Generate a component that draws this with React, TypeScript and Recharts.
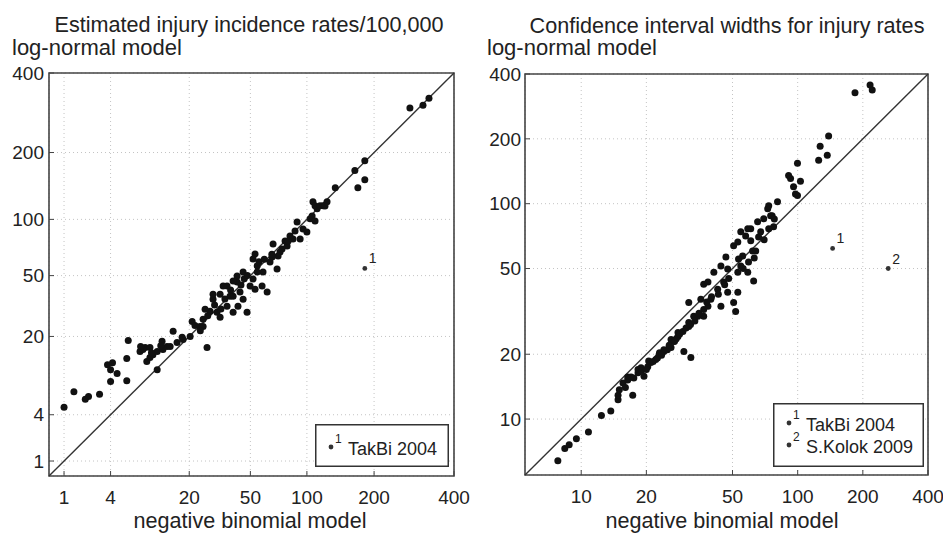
import React from "react";
import {
    ScatterChart,
    Scatter,
    XAxis,
    YAxis,
    CartesianGrid,
    ReferenceLine,
    ReferenceArea,
    Legend,
} from "recharts";

const FONT = '"Liberation Sans", Arial, Helvetica, sans-serif';
const INK = "#222";

// Panel 1 - estimated injury incidence rates / 100,000 (axes on a 4th-root scale)
const rateTicks = [1, 4, 20, 50, 100, 200, 400];
const rateRange = [0.5625, 400];
const rateNegBin = [
    1, 1.4, 2.0, 2.2, 3.0, 4.0, 3.7, 4.2, 4.7, 4.0, 5.9, 5.9, 6.1, 7.9, 8.8, 9.1, 9.7, 10.3, 11.2, 12.3,
    12.5, 13.5, 15.1, 16.2, 17.7, 21, 23.9, 25.1, 26.7, 28, 29.3, 32.6, 36.1, 39.4, 8.4, 9.7, 14.3, 18,
    20.3, 11.2, 25.1, 25.9, 29.3, 31.1, 34.1, 36.1, 37.7, 39.4, 41.7, 42.2, 45.3, 47.8, 49.8, 51.8, 53.2,
    54.7, 59, 62.2, 64.5, 70.4, 73, 71.3, 74.8, 79.5, 85.3, 89.4, 92.6, 95.7, 103.7, 107, 112, 119.5,
    124.7, 39.4, 41.7, 45.3, 53.2, 51.8, 67, 77.6, 82.3, 87.3, 106, 109.5, 109.5, 115.7, 122, 136, 166,
    183, 171, 183, 277, 310, 326, 32.6, 43.4, 54.7, 58.3, 66.2, 80.5, 100,
    22, 24, 27, 30, 33, 35, 38, 44, 46, 48, 56, 60, 66, 12, 10, 8,
];
const rateLogNorm = [
    4.8, 6.9, 5.8, 6.2, 6.5, 10.9, 12, 12.5, 10.1, 8.6, 8.7, 13.5, 18.7, 15.4, 16.5, 12.8, 13.8, 14.5,
    15.4, 18.4, 15.9, 16.8, 21.8, 18, 19.7, 25.6, 23.6, 26.5, 16.5, 30, 35.9, 38.6, 43.3, 37.5, 15.9,
    16.5, 16.8, 19, 20, 10.9, 23.6, 30.9, 38.6, 29.5, 43.3, 32.4, 37.5, 29.5, 45.8, 32.4, 35.9, 29.5,
    43.3, 47.7, 66.3, 56.8, 52.4, 39.8, 59.8, 54.6, 67.9, 64.6, 70.4, 73.1, 79.6, 97.2, 79.6, 89.6,
    100.6, 121.5, 112.5, 116.3, 121.5, 46.4, 49.7, 52.4, 41.5, 62.2, 74.9, 77.7, 82.5, 87.6, 104, 98.3,
    116.3, 116.3, 116, 141, 168, 185, 141, 153, 299, 306, 325, 27.3, 39.8, 52.4, 43.3, 63.8, 77.7, 86.5,
    24, 22, 28, 33, 31, 36, 41, 44, 48, 50, 60, 62, 66, 17, 15, 16.8,
];
const rateOutlierNegBin = [183];
const rateOutlierLogNorm = [55];
const rateOutlierTag = ["1"];

// Panel 2 - confidence interval widths (log axes)
const widthTicks = [10, 20, 50, 100, 200, 400];
const widthRange = [5.5, 400];
const widthNegBin = [
    7.8, 8.4, 8.8, 9.5, 10.8, 12.4, 13.7, 14.8, 14.8, 15, 17.3, 15.6, 16.4, 17, 18.3, 18.9, 20.3, 21,
    22.1, 22.9, 24.1, 26, 26.8, 28, 29.8, 32.1, 31.4, 34.6, 31.4, 36.8, 36.8, 26, 28, 31.4, 33.1, 35.7,
    36.8, 38.5, 39.7, 41, 42.7, 44.2, 45.5, 47.5, 50.6, 51.7, 47.5, 50.6, 52.9, 54.6, 55.7, 57.5, 58.8,
    59.3, 61.9, 62.6, 60.7, 65.3, 67.5, 69.7, 72.7, 75, 77.4, 80.7, 92.7, 95.7, 99.8, 103, 99.8, 90.8,
    184, 216, 221, 139, 127, 137, 125, 97.7, 73.5, 76.2, 73.5, 58.8, 54.6, 60.7, 64, 46.6, 44.2, 53.3,
    52.9, 38.5, 52.9, 16.4, 18.3, 19.5, 24.1, 23, 20.5, 27.5,
    16, 17.5, 19, 20, 21.5, 22.5, 23.5, 25, 25.5, 27, 28.5, 29.5, 30.5, 32, 33.5, 35, 38, 40, 43, 46,
    48, 56, 63, 66, 70, 78,
];
const widthLogNorm = [
    6.4, 7.3, 7.6, 8.1, 8.7, 10.4, 10.9, 12.3, 12.9, 13.7, 12.9, 14.7, 15.2, 15.7, 16.4, 17.3, 17.5,
    18.3, 18.9, 19.9, 20.6, 21.5, 22.9, 24.2, 20.6, 19.3, 28.1, 30, 34.8, 42.3, 32.3, 23.4, 25.2, 26.9,
    30, 36, 30, 33.4, 36, 48.1, 40.1, 33.4, 43.3, 38.8, 34.8, 31.6, 49.7, 63.7, 66.4, 51.3, 57.1, 70.8,
    48.1, 53.6, 60.3, 43.7, 76.4, 82.4, 74, 85.1, 94.8, 87.9, 78.1, 102, 131, 120, 109, 127, 154, 135,
    327, 356, 337, 206, 185, 168, 159, 111, 97.9, 87.9, 76.4, 76.4, 74, 67.2, 60.3, 56.5, 51.3, 55.3,
    48.1, 43.3, 38.8, 15.7, 17, 15.8, 21, 20.3, 18.6, 23.6,
    14, 15.5, 16.8, 17, 18.5, 19.2, 19.8, 21, 22, 23, 24.8, 25.5, 26.5, 27.5, 28.5, 31, 35, 37, 38, 42,
    45, 50, 56, 70, 68, 85,
];
const widthOutlierNegBin = [145, 262];
const widthOutlierLogNorm = [62, 50];
const widthOutlierTag = ["1", "2"];

const root4 = (v: number) => Math.pow(v, 0.25);

const ratePoints = rateNegBin.map((v, i) => ({ x: root4(v), y: root4(rateLogNorm[i]) }));
const rateOutliers = rateOutlierNegBin.map((v, i) => ({
    x: root4(v),
    y: root4(rateOutlierLogNorm[i]),
    tag: rateOutlierTag[i],
}));
const widthPoints = widthNegBin.map((v, i) => ({ x: v, y: widthLogNorm[i] }));
const widthOutliers = widthOutlierNegBin.map((v, i) => ({
    x: v,
    y: widthOutlierLogNorm[i],
    tag: widthOutlierTag[i],
}));

const tickStyle = { fill: INK, fontSize: 19, fontFamily: FONT };

const Dot = (props: any) => <circle cx={props.cx} cy={props.cy} r={3.5} fill="#111" />;

const TaggedDot = (props: any) => (
    <g>
        <circle cx={props.cx} cy={props.cy} r={2.4} fill="#333" />
        <text x={props.cx + 4} y={props.cy - 5} fontSize={14} fontFamily={FONT} fill={INK}>
            {props.payload.tag}
        </text>
    </g>
);

// legend box: entries drawn as small dot + superscript number + study name
const LegendBox = ({ w, h, entries }: { w: number; h: number; entries: { tag: string; name: string; y: number }[] }) => (
    <svg width={w} height={h} style={{ display: "block" }}>
        <rect x={0.75} y={0.75} width={w - 1.5} height={h - 1.5} fill="#fff" stroke="#333" strokeWidth={1.5} />
        {entries.map((e) => (
            <g key={e.tag}>
                <circle cx={16} cy={e.y - 8} r={2.4} fill="#333" />
                <text x={20} y={e.y - 12} fontSize={12} fontFamily={FONT} fill={INK}>
                    {e.tag}
                </text>
                <text x={33} y={e.y} fontSize={18} fontFamily={FONT} fill={INK}>
                    {e.name}
                </text>
            </g>
        ))}
    </svg>
);

const App = () => {
    const rateDomain = [root4(rateRange[0]), root4(rateRange[1])];
    const rateTickPos = rateTicks.map(root4);
    const fromRoot = (t: number) => String(Math.round(Math.pow(t, 4)));

    return (
        <div style={{ position: "fixed", left: 0, top: 0, width: 943, height: 533, background: "#fff", overflow: "hidden" }}>
            {/* Left panel */}
            <div style={{ position: "absolute", left: 0, top: 0 }}>
                <ScatterChart width={470} height={533} margin={{ top: 73, right: 16, bottom: 27, left: 0 }}>
                    <CartesianGrid stroke="#c4c4c4" strokeDasharray="1 3" />
                    <XAxis
                        type="number"
                        dataKey="x"
                        domain={rateDomain}
                        ticks={rateTickPos}
                        tickFormatter={fromRoot}
                        allowDataOverflow
                        height={30}
                        axisLine={false}
                        tickSize={-5}
                        tickMargin={20}
                        tickLine={{ stroke: "#444" }}
                        tick={tickStyle}
                    />
                    <YAxis
                        type="number"
                        dataKey="y"
                        domain={rateDomain}
                        ticks={rateTickPos}
                        tickFormatter={fromRoot}
                        allowDataOverflow
                        width={49}
                        axisLine={false}
                        tickSize={-5}
                        tickMargin={10}
                        tickLine={{ stroke: "#444" }}
                        tick={tickStyle}
                    />
                    <ReferenceLine
                        segment={[
                            { x: rateDomain[0], y: rateDomain[0] },
                            { x: rateDomain[1], y: rateDomain[1] },
                        ]}
                        stroke="#333"
                        strokeWidth={1.4}
                    />
                    <ReferenceArea
                        x1={rateDomain[0]}
                        x2={rateDomain[1]}
                        y1={rateDomain[0]}
                        y2={rateDomain[1]}
                        fill="none"
                        stroke="#444"
                        strokeWidth={1.6}
                    />
                    <Scatter data={ratePoints} shape={Dot} isAnimationActive={false} />
                    <Scatter data={rateOutliers} shape={TaggedDot} isAnimationActive={false} />
                    <Legend
                        layout="horizontal"
                        verticalAlign="middle"
                        align="center"
                        wrapperStyle={{ left: 315, top: 424, width: 134, height: 43 }}
                        content={() => <LegendBox w={134} h={43} entries={[{ tag: "1", name: "TakBi 2004", y: 31 }]} />}
                    />
                </ScatterChart>
            </div>

            {/* Right panel */}
            <div style={{ position: "absolute", left: 470, top: 0 }}>
                <ScatterChart width={473} height={533} margin={{ top: 74, right: 15, bottom: 28, left: 0 }}>
                    <CartesianGrid stroke="#c4c4c4" strokeDasharray="1 3" />
                    <XAxis
                        type="number"
                        dataKey="x"
                        scale="log"
                        domain={widthRange}
                        ticks={widthTicks}
                        allowDataOverflow
                        height={30}
                        axisLine={false}
                        tickSize={-5}
                        tickMargin={20}
                        tickLine={{ stroke: "#444" }}
                        tick={tickStyle}
                    />
                    <YAxis
                        type="number"
                        dataKey="y"
                        scale="log"
                        domain={widthRange}
                        ticks={widthTicks}
                        allowDataOverflow
                        width={55}
                        axisLine={false}
                        tickSize={-5}
                        tickMargin={9}
                        tickLine={{ stroke: "#444" }}
                        tick={tickStyle}
                    />
                    <ReferenceLine
                        segment={[
                            { x: widthRange[0], y: widthRange[0] },
                            { x: widthRange[1], y: widthRange[1] },
                        ]}
                        stroke="#333"
                        strokeWidth={1.4}
                    />
                    <ReferenceArea
                        x1={widthRange[0]}
                        x2={widthRange[1]}
                        y1={widthRange[0]}
                        y2={widthRange[1]}
                        fill="none"
                        stroke="#444"
                        strokeWidth={1.6}
                    />
                    <Scatter data={widthPoints} shape={Dot} isAnimationActive={false} />
                    <Scatter data={widthOutliers} shape={TaggedDot} isAnimationActive={false} />
                    <Legend
                        layout="horizontal"
                        verticalAlign="middle"
                        align="center"
                        wrapperStyle={{ left: 303, top: 403, width: 151, height: 64 }}
                        content={() => (
                            <LegendBox
                                w={151}
                                h={64}
                                entries={[
                                    { tag: "1", name: "TakBi 2004", y: 28 },
                                    { tag: "2", name: "S.Kolok 2009", y: 50 },
                                ]}
                            />
                        )}
                    />
                </ScatterChart>
            </div>

            {/* Titles and axis names */}
            <svg width={943} height={533} style={{ position: "absolute", left: 0, top: 0, pointerEvents: "none" }}>
                <g fontFamily={FONT} fill={INK}>
                    <text x={249} y={32} fontSize={21.6} textAnchor="middle">
                        Estimated injury incidence rates/100,000
                    </text>
                    <text x={12} y={55} fontSize={22}>
                        log-normal model
                    </text>
                    <text x={250} y={528} fontSize={21.6} textAnchor="middle">
                        negative binomial model
                    </text>
                    <text x={727} y={33} fontSize={21.6} textAnchor="middle">
                        Confidence interval widths for injury rates
                    </text>
                    <text x={487} y={55} fontSize={22}>
                        log-normal model
                    </text>
                    <text x={722} y={528} fontSize={21.6} textAnchor="middle">
                        negative binomial model
                    </text>
                </g>
            </svg>
        </div>
    );
};

export default App;
